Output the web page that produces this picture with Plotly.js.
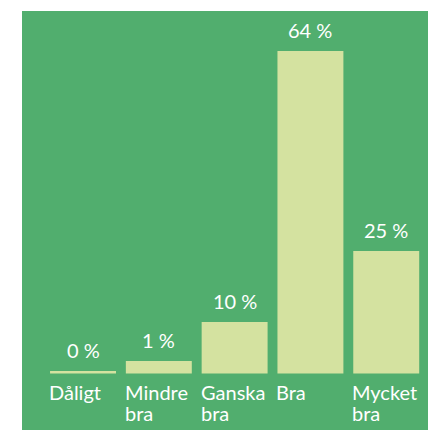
<!DOCTYPE html>
<html>
<head>
<meta charset="utf-8">
<script src="https://cdn.plot.ly/plotly-3.0.1.min.js"></script>
<style>html,body{margin:0;padding:0;background:#fff;}#chart{width:428px;height:430px;}</style>
</head>
<body>
<div id="chart"></div>
<script>
// Data
const categories = ["Dåligt", "Mindre\nbra", "Ganska\nbra", "Bra", "Mycket\nbra"];
const values = [0.5, 2.5, 10.2, 64, 24.3];
const labelTexts = ["0 %", "1 %", "10 %", "64 %", "25 %"];

// Style
const GREEN = "#51AE6E";
const BAR = "#D4E2A0";
const TXT = "#FFFFFF";
const FONT = "Lato, 'Open Sans', sans-serif";
const BARW = 0.87;
const FS = 20;

const xs = categories.map((c, i) => i);

const annotations = [];
// value labels above bars
xs.forEach((x, i) => {
  annotations.push({
    x: x, y: values[i], xref: "x", yref: "y",
    text: labelTexts[i], showarrow: false,
    xanchor: "center", yanchor: "bottom", yshift: 7,
    font: {family: FONT, size: FS, color: TXT}
  });
});
// category labels, left aligned at bar left edge
xs.forEach((x, i) => {
  categories[i].split("\n").forEach((line, k) => {
    annotations.push({
      x: x - BARW / 2, y: 0, xref: "x", yref: "y",
      text: line, showarrow: false,
      xanchor: "left", yanchor: "top", xshift: -3, yshift: -4 - 21 * k,
      font: {family: FONT, size: FS, color: TXT}
    });
  });
});

const trace = {
  type: "bar",
  x: xs,
  y: values,
  width: BARW,
  marker: {color: BAR, line: {width: 0}},
  hoverinfo: "skip"
};

const layout = {
  width: 428, height: 430,
  margin: {l: 22, r: 0, t: 11, b: 0, pad: 0},
  paper_bgcolor: "#FFFFFF",
  plot_bgcolor: GREEN,
  showlegend: false,
  xaxis: {range: [-0.805, 4.551], showgrid: false, zeroline: false, showticklabels: false, ticks: "", fixedrange: true},
  yaxis: {range: [-11.21, 71.92], showgrid: false, zeroline: false, showticklabels: false, ticks: "", fixedrange: true},
  annotations: annotations,
  hovermode: false
};

Plotly.newPlot("chart", [trace], layout, {displayModeBar: false, staticPlot: true});
</script>
</body>
</html>
